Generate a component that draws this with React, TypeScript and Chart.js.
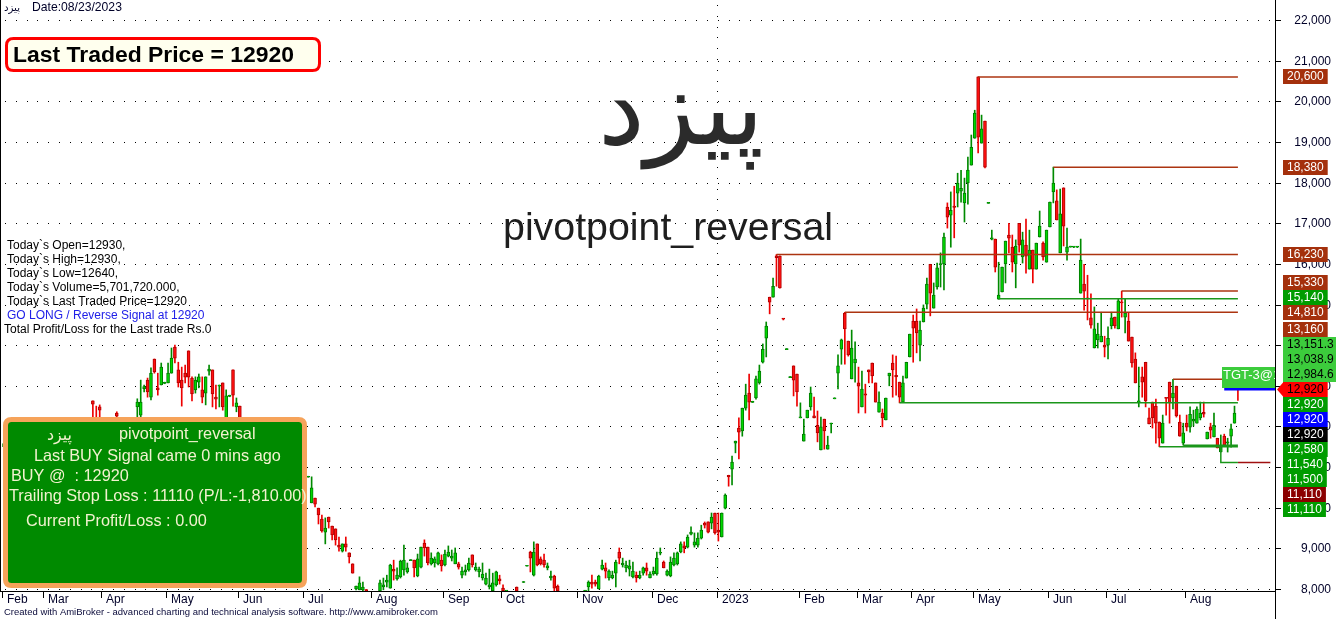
import React, { useEffect, useRef } from 'react';
import { Chart, registerables } from 'chart.js';

Chart.register(...registerables);

// Daily bars: [open, high, low, close]
const barsFebJul2022 = [
  [11500,11650,11380,11580],[11580,11700,11450,11520],[11520,11600,11300,11350],[11350,11500,11250,11450],
  [11450,11700,11400,11650],[11650,11800,11550,11600],[11600,11650,11400,11450],[11450,11550,11300,11380],
  [11380,11600,11350,11550],[11550,11850,11500,11800],[11800,11950,11700,11750],[11750,11800,11500,11550],
  [11550,11700,11450,11650],[11650,11900,11600,11850],[11850,12000,11750,11800],[11800,11850,11600,11650],
  [11650,11750,11500,11700],[11700,11950,11650,11900],[11900,12050,11800,11850],[11850,11900,11650,11700],
  [11700,11850,11600,11800],[11800,12000,11750,11950],[11950,12050,11850,11900],[11900,11950,11700,11750],
  [11750,11950,11700,11900],[11900,12050,11850,12000],
  [12630,12630,12050,12550],[12200,12500,12050,12120],[12480,12530,12050,12400],
  [12050,12080,11800,11850],[11850,11950,11700,11900],[11900,12000,11750,11800],[11800,12050,11750,12000],
  [12330,12360,12000,12250],
  [12000,12050,11850,11900],[11900,12080,11850,12050],[12050,12080,11900,11950],[11950,12050,11800,12000],[12000,12080,11900,12050],
  [12480,12680,12100,12600],[12280,13140,12050,12600],[12930,13020,12850,12980],[13140,13190,12720,12850],
  [12720,13440,12650,13310],[13660,13660,13310,13340],[12950,13310,12770,12900],[13020,13560,13020,13460],
  [13060,13090,13050,13080],[13070,13560,13070,13310],[13310,13930,13310,13680],[13950,14000,13560,13680],
  [13390,13580,12970,13070],[13140,13460,12500,12950],[13310,13510,13070,13210],[13860,13860,12970,13210],
  [13190,13220,12630,12800],[12900,13220,12820,13140],[13090,13290,12950,13220],[12900,13220,12580,12720],
  [12820,13220,12530,13220],[13360,13510,13260,13410],[13390,13390,12480,12800],[12720,13020,12430,12670],
  [12990,13020,12480,13010],[13070,13070,12400,12480],[12050,12900,11950,12750],[12740,12770,12730,12760],
  [13390,13390,12500,12770],[12480,12700,12360,12580],[12500,12500,11800,11900],
  [11900,12000,11700,11750],[11750,11800,11500,11550],[11550,11700,11450,11650],[11650,11750,11400,11450],
  [11450,11550,11300,11500],[11500,11600,11350,11400],[11400,11450,11200,11250],[11250,11400,11150,11350],
  [11350,11450,11200,11300],[11300,11350,11050,11100],[11100,11250,11000,11200],[11200,11300,11050,11100],
  [11100,11150,10900,10950],[10950,11100,10850,11050],[11050,11150,10950,11000],[11000,11050,10800,10850],
  [10850,10950,10700,10900],[10900,11000,10750,10800],[10800,10850,10650,10750],
];

const barsJulDec2022 = [
  [10750,10760,10750,10760],[10120,10760,10120,10490],[10240,10240,10020,10090],[9990,9990,9600,9820],
  [9720,9820,9400,9430],[9400,9750,9110,9500],[9770,9770,9500,9650],[9550,9550,9210,9330],
  [9480,9480,9080,9210],[9080,9280,8930,9030],[8930,9110,8910,9110],[9110,9280,8930,9030],
  [8890,8890,8640,8790],[8620,8620,8390,8390],[8000,8070,7980,8070],[7980,8300,7980,8150],
  [7980,8170,7950,8050],[7980,7990,7950,7960],[7900,7940,7700,7800],[7800,7850,7600,7700],
  [7700,7900,7650,7850],[7950,8220,7950,8150],[8050,8270,7980,8100],[8170,8340,8050,8220],
  [8020,8610,8020,8590],[8490,8710,8220,8440],[8250,8520,8220,8340],[8300,8710,8270,8690],
  [8470,9080,8340,8710],[8420,8640,8390,8520],[8700,8720,8700,8710],[8710,8710,8300,8520],
  [8320,8860,8300,8740],[8540,9030,8520,9030],[9130,9210,8810,9010],[9030,9030,8590,8640],
  [8620,8890,8590,8760],[8640,8790,8540,8740],[8620,8910,8590,8890],[8710,8840,8440,8570],
  [8590,8960,8570,8860],[8810,9060,8790,8910],[8760,8960,8690,8810],[8620,9010,8620,8890],
  [8620,8660,8490,8540],[8340,8540,8270,8440],[8420,8590,8340,8470],[8470,8760,8440,8640],
  [8840,8840,8540,8590],[8470,8640,8440,8540],[8420,8540,8300,8490],[8270,8640,8220,8370],
  [8120,8390,8100,8270],[8050,8490,8000,8100],[7960,8390,7950,8150],[8100,8440,8070,8420],
  [8250,8340,8120,8200],[8020,8100,7950,7960],[7900,7950,7850,7900],[7850,7900,7700,7800],
  [7800,7900,7750,7850],[8050,8050,7900,7950],[7900,7940,7800,7850],[8160,8170,8160,8170],
  [8560,8570,8560,8570],[8910,8930,8420,8760],[8340,9160,8320,8910],[9110,9110,8570,8590],
  [8740,8790,8590,8620],[8710,8860,8540,8590],[8520,8640,8470,8570],[8270,8440,8220,8320],
  [8320,8340,7950,8020],[8070,8100,7900,7950],[7900,7940,7700,7750],[7750,7850,7600,7700],
  [7700,7800,7550,7650],[7650,7750,7500,7600],[7600,7800,7550,7750],[7750,7900,7650,7850],
  [7850,7940,7750,7900],[7900,7940,7800,7920],[8050,8200,7950,8170],[8170,8340,8020,8120],
  [8170,8220,8070,8120],[8000,8340,8000,8320],[8490,8710,8470,8590],[8520,8640,8270,8440],
  [8270,8470,8220,8440],[8270,8440,8250,8340],[8390,8710,8050,8660],[8910,9010,8620,8760],
  [8590,8760,8540,8640],[8520,8690,8420,8590],[8490,8710,8320,8570],[8300,8660,8270,8440],
  [8340,8420,8170,8270],[8270,8440,8250,8340],[8390,8540,8340,8520],[8520,8640,8340,8440],
  [8270,8420,8270,8370],[8370,8540,8340,8440],[8370,8910,8340,8760],[8880,9010,8840,8900],
  [8660,8690,8520,8520],[8340,8470,8320,8440],[8320,8790,8300,8660],[8590,8890,8570,8760],
  [8620,8910,8590,8890],[8910,9160,8890,9110],[9060,9160,8890,9010],[9030,9330,9010,9280],
  [9350,9530,9330,9400],[9080,9380,9030,9160],[9080,9380,9030,9250],[9250,9570,9230,9450],
  [9620,9650,9500,9570],[9650,9650,9380,9400],[9620,9870,9480,9770],[9870,9870,9350,9380],
  [9450,9870,9180,9400],[9280,9870,9280,9870],[9990,10340,9970,10310],[10800,10800,10530,10760],
];

const barsJanMay2023 = [
  [10950,11270,10560,11120],[11590,11640,11350,11640],[11960,12210,11200,11860],[11890,12450,11760,12450],
  [12450,13040,12400,12770],[12820,13290,12160,12600],[12590,12620,12590,12610],[12700,13240,12670,13170],
  [13070,13510,13040,13360],[13580,14030,13560,13900],[14170,14570,13710,14470],[15180,15180,14770,15060],
  [15180,15650,15180,15450],[16200,16230,15450,16150],[16190,16200,15400,15410],[14660,14660,14620,14640],
  [13890,13910,13890,13910],[13200,13220,13200,13220],[13490,13490,12750,13140],[13290,13290,12500,12850],
  [12210,12580,12210,12230],[11640,12180,11640,11810],[12210,12400,12210,12400],[12480,12970,12400,12820],
  [12260,12720,12210,12210],[12030,12380,11620,11840],[11420,12230,11420,11990],[12180,12180,11440,11890],
  [11440,11760,11440,11540],[12060,12080,11840,12080],[12680,12700,12680,12700],[13310,13760,12920,13490],
  [13900,14150,13530,14130],[14790,14810,13530,14400],[14100,14100,13730,13760],[13170,14370,13170,13930],
  [13560,14080,13090,13660],[13070,13460,12330,12990],[12480,13360,12480,12920],[12800,13040,12330,12770],
  [13390,13390,13070,13340],[13560,13560,13070,13240],[13070,13070,12600,12600],[12350,12850,12350,12600],
  [12330,12430,11990,12210],[12160,12700,12160,12700],[13240,13310,13000,13310],[13560,13760,12720,13390],
  [13260,13730,12770,13220],[13090,13090,12580,12720],[12600,13240,12600,13070],[13190,13580,13190,13580],
  [13710,14270,13710,14270],[14590,14740,13580,14420],[14590,14890,13810,14300],[14000,14590,13610,14370],
  [14570,14990,14570,14910],[15010,15650,14890,15500],[15990,15990,14720,15280],[14910,15530,14910,15230],
  [15430,16020,15380,15900],[15980,16270,15430,16000],[16000,16760,15360,16660],[17400,17500,16880,17150],
  [17200,17770,16410,17320],[17420,17910,16640,17390],[17740,18230,17400,17990],[17790,18300,17520,17860],
  [17500,18110,17030,17740],[17990,18630,17470,18310],[18430,19170,18430,18870],[19090,19780,19090,19710],
  [20600,20600,18730,19120],[18970,19660,18970,19320],[19510,19510,18360,18380],[17490,17500,17490,17500],
  [16610,16830,16590,16640],[16610,16610,15800,15920],
];

const barsMayAug2023 = [
  [15130,16040,15130,15230],[15310,15920,15310,15920],[16000,16560,15530,16560],[16710,17000,16270,16630],
  [16410,16710,15800,16040],[16000,16590,15410,16440],[17000,17000,16290,16460],[16170,16780,16020,16590],
  [16460,17100,15770,16190],[15870,16830,15870,16340],[16340,16340,15530,15870],[15870,16510,15870,16510],
  [16660,17300,16660,16930],[16510,16540,16090,16170],[16040,16830,16040,16830],[16910,17520,16910,17520],
  [17770,18380,17500,17990],[17550,17820,17080,17080],[16270,17840,16270,17230],[17870,17870,16440,16930],
  [16290,16880,16090,16410],[16410,16420,16410,16420],[16410,16420,16400,16420],[16410,16420,16400,16420],
  [15280,16610,15280,16090],[15500,15990,14860,15330],[15160,15720,14620,15140],[14670,15260,14420,14490],
  [13930,14940,13930,14400],[14130,14540,13930,14270],[14080,14810,14080,14220],[14000,14220,13710,13950],
  [14000,14450,13660,14170],[14470,14810,14400,14670],[14690,14690,14420,14470],[14400,15130,14400,15090],
  [15060,15330,14690,15040],[14690,15130,14300,14790],[14590,14790,14100,14100],[14200,14200,13460,13560],
  [13660,13810,13070,13070],[12600,13460,12480,12630],[13220,13460,12720,13090],[13580,13580,12480,12630],
  [12210,12450,12060,12060],[12600,12600,11960,12210],[12500,12670,11590,12080],[12110,12110,11500,11710],
  [11590,12280,11590,12080],[12700,12700,12280,12690],[13090,13090,12080,12580],[12700,13160,12430,12820],
  [12990,12990,12230,12260],[12110,12280,11760,11760],[11590,12080,11540,11840],[12080,12280,11890,11980],
  [11980,12480,11860,12300],[12130,12400,12010,12180],[12080,12480,12080,12430],[12210,12600,12160,12330],
  [12350,12600,12230,12300],[11690,11860,11690,11860],[11990,12080,11710,11910],[11740,12330,11740,12030],
  [11710,11710,11470,11470],[11370,11790,11370,11490],[11760,11810,11540,11540],[11590,11710,11370,11620],
  [11760,12060,11490,11940],[12080,12500,12080,12330],[12930,12930,12640,12920],
];

// Axis labels
const monthLabels = ['Feb','Mar','Apr','May','Jun','Jul','Aug','Sep','Oct','Nov','Dec','2023','Feb','Mar','Apr','May','Jun','Jul','Aug'];
const monthFirstBar = [0,12,29,48,69,88,108,129,146,168,190,209,233,250,266,284,306,323,346];
const priceTicks = [8000,9000,10000,11000,12000,13000,14000,15000,16000,17000,18000,19000,20000,21000,22000];

// Pivot levels (horizontal lines from the pivot bar to the last bar)
const levelValues = [20600,18380,16230,15330,15140,14810,13160,12580,11540,11500];
const levelFirstBar = [285,307,226,327,291,246,342,262,345,338];
const levelKinds = ['res','res','res','res','sup','res','res','sup','sup','sup'];

// Trailing stop path and buy line
const stopBars = [356,356,361];
const stopValues = [11500,11110,11110];
const stopExtensionEnd = 370.5;
const buyPrice = 12920;
const buyBar = 357;

// Right-hand price tags
const tagValues = [20600,18380,16230,15330,15140,14810,13160,13151.3,13038.9,12984.6,12920,12920,12920,12920,12580,11540,11500,11110,11110];
const tagTexts = ['20,600','18,380','16,230','15,330','15,140','14,810','13,160','13,151.3','13,038.9','12,984.6','12,920','12,920','12,920','12,920','12,580','11,540','11,500','11,110','11,110'];
const tagKinds = ['res','res','res','res','sup','res','res','tgt','tgt','tgt','last','sup','buy','close','sup','sup','sup','stop','sup'];

const symbolName = 'پیزد';
const systemName = 'pivotpoint_reversal';
const dateText = 'Date:08/23/2023';
const ltpText = 'Last Traded Price = 12920';
const infoLines = [
  'Today`s Open=12930,',
  'Today`s High=12930,',
  'Today`s Low=12640,',
  'Today`s Volume=5,701,720.000,',
  'Today`s Last Traded Price=12920',
  'GO LONG / Reverse Signal at 12920',
  'Total Profit/Loss for the Last trade Rs.0',
];
const signalLines = [
  'Last BUY Signal came 0 mins ago',
  'BUY @  : 12920',
  'Trailing Stop Loss : 11110 (P/L:-1,810.00)',
  'Current Profit/Loss : 0.00',
];
const tgtText = 'TGT-3@13151.3';
const creditText = 'Created with AmiBroker - advanced charting and technical analysis software. http://www.amibroker.com';

const allBars = [...barsFebJul2022, ...barsJulDec2022, ...barsJanMay2023, ...barsMayAug2023];

const FONT = '"Liberation Sans", Arial, Helvetica, sans-serif';
const FA_FONT = '"DejaVu Sans", sans-serif';

const lineColors: Record<string, string> = { res: '#ac3410', sup: '#1a961a', stop: '#a01010', buy: '#0000ff' };
const tagStyle: Record<string, { bg: string; fg: string }> = {
  res: { bg: '#a4300c', fg: '#ffffff' },
  sup: { bg: '#009c00', fg: '#ffffff' },
  tgt: { bg: '#3ccc3c', fg: '#000000' },
  last: { bg: '#ff0000', fg: '#000000' },
  buy: { bg: '#0000ff', fg: '#ffffff' },
  close: { bg: '#000000', fg: '#ffffff' },
  stop: { bg: '#8b0000', fg: '#ffffff' },
};

function fitFont(ctx: CanvasRenderingContext2D, text: string, family: string, weight: string, target: number) {
  ctx.font = `${weight} 100px ${family}`;
  const w = ctx.measureText(text).width || 1;
  const size = (100 * target) / w;
  ctx.font = `${weight} ${size.toFixed(2)}px ${family}`;
  return size;
}

function roundRectPath(ctx: CanvasRenderingContext2D, x: number, y: number, w: number, h: number, r: number) {
  ctx.beginPath();
  ctx.moveTo(x + r, y);
  ctx.lineTo(x + w - r, y);
  ctx.quadraticCurveTo(x + w, y, x + w, y + r);
  ctx.lineTo(x + w, y + h - r);
  ctx.quadraticCurveTo(x + w, y + h, x + w - r, y + h);
  ctx.lineTo(x + r, y + h);
  ctx.quadraticCurveTo(x, y + h, x, y + h - r);
  ctx.lineTo(x, y + r);
  ctx.quadraticCurveTo(x, y, x + r, y);
  ctx.closePath();
}

const overlayPlugin = {
  id: 'amiOverlay',
  beforeDatasetsDraw(chart: any) {
    const { ctx, chartArea: a, scales } = chart;
    const x = scales.x, y = scales.y;
    ctx.save();
    ctx.fillStyle = '#000';
    for (const v of priceTicks) {
      const py = Math.round(y.getPixelForValue(v));
      for (let px = 5; px < a.right - 2; px += 10.8) ctx.fillRect(Math.round(px), py, 1, 1);
    }
    const yi = monthLabels.indexOf('2023');
    const vx = Math.round(x.getPixelForValue(monthFirstBar[yi] - 0.5));
    for (let py = 5; py < a.bottom; py += 10.8) ctx.fillRect(vx, Math.round(py), 1, 1);
    ctx.restore();
  },
  afterDatasetsDraw(chart: any) {
    const { ctx, chartArea: a, scales } = chart;
    const x = scales.x, y = scales.y;
    ctx.save();
    // frame
    ctx.fillStyle = '#000';
    ctx.fillRect(0, a.bottom, a.right, 1);
    ctx.fillRect(a.right, 0, 1, chart.height);
    ctx.fillRect(0, 0, 1, a.bottom);
    // x axis
    ctx.font = `12px ${FONT}`;
    ctx.textAlign = 'left';
    ctx.textBaseline = 'top';
    monthLabels.forEach((m, k) => {
      const px = Math.round(x.getPixelForValue(monthFirstBar[k] - 0.5));
      ctx.fillStyle = '#000';
      ctx.fillRect(px, a.bottom, 1, 7);
      ctx.fillStyle = '#000028';
      ctx.fillText(m, px + 5, a.bottom + 3);
    });
    // y axis
    ctx.textAlign = 'right';
    ctx.textBaseline = 'middle';
    priceTicks.forEach((v) => {
      const py = Math.round(y.getPixelForValue(v));
      ctx.fillStyle = '#000';
      ctx.fillRect(a.right + 1, py, 5, 1);
      ctx.fillStyle = '#000028';
      ctx.fillText(v.toLocaleString('en-US'), 1331, py + 0.5);
    });
    // TGT label above buy line
    const bx = Math.round(x.getPixelForValue(buyBar)) - 2;
    const by = Math.round(y.getPixelForValue(buyPrice));
    ctx.fillStyle = '#3ccc3c';
    ctx.fillRect(bx, by - 22, a.right - bx, 21);
    ctx.save();
    ctx.beginPath();
    ctx.rect(bx, by - 22, a.right - bx, 21);
    ctx.clip();
    ctx.fillStyle = '#ffffff';
    ctx.font = `13px ${FONT}`;
    ctx.textAlign = 'left';
    ctx.textBaseline = 'middle';
    ctx.fillText(tgtText, bx + 1, by - 14);
    ctx.restore();
    // price tags
    const n = tagValues.length;
    const anchor = tagKinds.indexOf('last');
    const natural = tagValues.map((v) => y.getPixelForValue(v));
    const pos = natural.slice();
    for (let k = anchor - 1; k >= 0; k--) pos[k] = Math.min(natural[k], pos[k + 1] - 15);
    for (let k = anchor + 1; k < n; k++) pos[k] = Math.max(natural[k], pos[k - 1] + 15);
    ctx.font = `12px ${FONT}`;
    ctx.textAlign = 'left';
    ctx.textBaseline = 'middle';
    for (let k = 0; k < n; k++) {
      const st = tagStyle[tagKinds[k]];
      const w = ctx.measureText(tagTexts[k]).width + 8;
      const top = Math.round(pos[k] - 7.5);
      ctx.fillStyle = st.bg;
      ctx.fillRect(1283, top, w, 15);
      if (tagKinds[k] === 'last') {
        ctx.beginPath();
        ctx.moveTo(1277, top + 7.5);
        ctx.lineTo(1283.5, top);
        ctx.lineTo(1283.5, top + 15);
        ctx.closePath();
        ctx.fill();
      }
      ctx.fillStyle = st.fg;
      ctx.fillText(tagTexts[k], 1287, top + 8);
    }
    ctx.restore();
  },
  afterDraw(chart: any) {
    const ctx: CanvasRenderingContext2D = chart.ctx;
    ctx.save();
    ctx.textAlign = 'left';
    // header
    ctx.fillStyle = '#000028';
    ctx.textBaseline = 'middle';
    fitFont(ctx, symbolName, FA_FONT, '', 16);
    ctx.fillText(symbolName, 4, 8);
    fitFont(ctx, dateText, FONT, '', 90);
    ctx.fillText(dateText, 32, 8);
    // last traded price box
    roundRectPath(ctx, 6.5, 38.5, 313, 32, 7);
    ctx.fillStyle = '#ffffee';
    ctx.fill();
    ctx.lineWidth = 3;
    ctx.strokeStyle = '#ff0000';
    ctx.stroke();
    ctx.fillStyle = '#000000';
    ctx.textBaseline = 'alphabetic';
    fitFont(ctx, ltpText, FONT, 'bold', 281);
    ctx.fillText(ltpText, 13, 62);
    // big titles
    ctx.textAlign = 'center';
    ctx.fillStyle = '#2b2b2b';
    fitFont(ctx, symbolName, FA_FONT, '', 166);
    ctx.fillText(symbolName, 681, 144);
    ctx.fillStyle = '#1e1e1e';
    fitFont(ctx, systemName, FONT, '', 330);
    ctx.fillText(systemName, 668, 240);
    // info lines
    ctx.textAlign = 'left';
    ctx.textBaseline = 'middle';
    ctx.font = `12px ${FONT}`;
    infoLines.forEach((t, k) => {
      ctx.fillStyle = k === 5 ? '#2020e8' : '#000000';
      ctx.fillText(t, k === 6 ? 4 : 7, 246 + k * 14);
    });
    // signal box
    roundRectPath(ctx, 5.5, 419.5, 299, 166, 6);
    ctx.fillStyle = '#008a00';
    ctx.fill();
    ctx.lineWidth = 5;
    ctx.strokeStyle = '#f6a35a';
    ctx.stroke();
    ctx.fillStyle = '#f2f2cf';
    fitFont(ctx, symbolName, FA_FONT, '', 25);
    ctx.fillText(symbolName, 47, 436);
    const s = fitFont(ctx, signalLines[0], FONT, '', 247);
    ctx.font = `${s.toFixed(2)}px ${FONT}`;
    ctx.fillText(systemName, 119, 435);
    ctx.fillText(signalLines[0], 34, 457);
    ctx.fillText(signalLines[1], 11, 477);
    ctx.save();
    ctx.beginPath();
    ctx.rect(0, 480, 309, 40);
    ctx.clip();
    ctx.fillText(signalLines[2], 9, 497);
    ctx.restore();
    ctx.fillText(signalLines[3], 26, 522);
    // credit
    ctx.fillStyle = '#0a0a3a';
    fitFont(ctx, creditText, FONT, '', 434);
    ctx.fillText(creditText, 4, 612);
    ctx.restore();
  },
};

export default function App() {
  const canvasRef = useRef<HTMLCanvasElement | null>(null);

  useEffect(() => {
    const canvas = canvasRef.current;
    if (!canvas) return;
    const isUp = allBars.map((b) => b[3] >= b[0]);
    const bodyData = allBars.map((b, i) => ({ x: i, y: [b[0], b[3]] }));
    const wickData = allBars.map((b, i) => ({ x: i, y: [b[2], b[1]] }));
    const lastBar = allBars.length - 1;

    const levelSets = levelValues.map((v, k) => ({
      type: 'line',
      data: [{ x: levelFirstBar[k], y: v }, { x: lastBar, y: v }],
      borderColor: lineColors[levelKinds[k]],
      borderWidth: 1.5,
      pointRadius: 0,
      tension: 0,
      order: -1,
      clip: 0,
    }));
    const stopSet = {
      type: 'line',
      data: stopBars.map((b, k) => ({ x: b, y: stopValues[k] })),
      borderColor: lineColors.sup,
      borderWidth: 1.5,
      pointRadius: 0,
      tension: 0,
      order: -1,
      clip: 0,
    };
    const stopExt = {
      type: 'line',
      data: [{ x: lastBar, y: stopValues[stopValues.length - 1] }, { x: stopExtensionEnd, y: stopValues[stopValues.length - 1] }],
      borderColor: lineColors.stop,
      borderWidth: 1.5,
      pointRadius: 0,
      tension: 0,
      order: -1,
      clip: 0,
    };
    const buySet = {
      type: 'line',
      data: [{ x: buyBar, y: buyPrice }, { x: 371.85, y: buyPrice }],
      borderColor: lineColors.buy,
      borderWidth: 3,
      pointRadius: 0,
      tension: 0,
      order: -2,
      clip: 0,
    };

    const chart = new Chart(canvas, {
      type: 'bar',
      data: {
        datasets: [
          {
            type: 'bar',
            label: 'body',
            data: bodyData as any,
            backgroundColor: isUp.map((u) => (u ? '#00d800' : '#ff1010')),
            borderColor: isUp.map((u) => (u ? '#007a00' : '#b00000')),
            borderWidth: 1,
            borderSkipped: false,
            barThickness: 3,
            minBarLength: 1,
            grouped: false,
            order: 0,
            clip: 0,
          } as any,
          {
            type: 'bar',
            label: 'wick',
            data: wickData as any,
            backgroundColor: isUp.map((u) => (u ? '#008a00' : '#ee0000')),
            borderWidth: 0,
            barThickness: 1,
            minBarLength: 1,
            grouped: false,
            order: 1,
            clip: 0,
          } as any,
          ...(levelSets as any[]),
          stopSet as any,
          stopExt as any,
          buySet as any,
        ],
      },
      options: {
        responsive: false,
        animation: false,
        devicePixelRatio: 1,
        events: [],
        layout: { padding: { left: 0, top: 0, right: 61, bottom: 28 } },
        plugins: { legend: { display: false }, tooltip: { enabled: false } },
        scales: {
          x: { type: 'linear', display: false, min: -1.17, max: 371.85, offset: false, grid: { offset: false } } as any,
          y: { type: 'linear', display: false, min: 7951, max: 22492, beginAtZero: false },
        },
      },
      plugins: [overlayPlugin as any],
    });
    return () => chart.destroy();
  }, []);

  return (
    <div style={{ position: 'fixed', left: 0, top: 0, width: 1336, height: 619, background: '#ffffff' }}>
      <canvas ref={canvasRef} width={1336} height={619} style={{ display: 'block', width: 1336, height: 619 }} />
    </div>
  );
}
